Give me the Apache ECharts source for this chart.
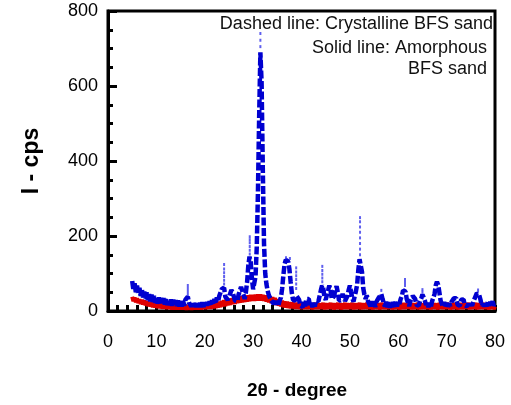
<!DOCTYPE html>
<html>
<head>
<meta charset="utf-8">
<script src="https://cdn.jsdelivr.net/npm/echarts@6/dist/echarts.min.js"></script>
<style>
  html, body { margin: 0; padding: 0; background: #fff; }
  #chart { width: 511px; height: 405px; }
</style>
</head>
<body>
<div id="chart"></div>
<script>
// XRD scan settings (2θ in degrees)
const scanStart = 5;
const scanStep = 0.25;

// Crystalline BFS sand, counts per second, one row per degree (x.00, x.25, x.50, x.75)
const crystallineCps = [
  80, 56, 74, 50,   // 5
  68, 45, 62, 40,   // 6
  58, 36, 52, 32,   // 7
  50, 29, 45, 26,   // 8
  44, 24, 40, 22,   // 9
  38, 20, 36, 19,   // 10
  35, 18, 34, 17,   // 11
  33, 16, 31, 15,   // 12
  31, 14, 30, 13,   // 13
  29, 13, 28, 12,   // 14
  28, 12, 29, 14,   // 15
  30, 26, 38, 22,   // 16
  25, 12, 24, 11,   // 17
  23, 10, 22, 10,   // 18
  22, 10, 23, 11,   // 19
  23, 11, 24, 12,   // 20
  26, 14, 29, 17,   // 21
  32, 19, 36, 25,   // 22
  40, 40, 58, 55,   // 23
  62, 38, 36, 30,   // 24
  36, 34, 56, 50,   // 25
  48, 28, 32, 26,   // 26
  44, 48, 64, 54,   // 27
  44, 32, 50, 76,   // 28
  120, 145, 130, 85,   // 29
  58, 56, 92, 170,   // 30
  320, 520, 690, 610,   // 31
  380, 180, 100, 72,   // 32
  54, 42, 40, 28,   // 33
  30, 19, 29, 17,   // 34
  27, 16, 28, 36,   // 35
  60, 95, 125, 136,   // 36
  138, 132, 112, 78,   // 37
  48, 30, 27, 28,   // 38
  40, 40, 30, 16,   // 39
  20, 10, 24, 12,   // 40
  32, 34, 32, 14,   // 41
  22, 10, 22, 12,   // 42
  28, 26, 26, 30,   // 43
  55, 68, 60, 36,   // 44
  30, 32, 55, 68,   // 45
  55, 32, 32, 40,   // 46
  58, 66, 50, 28,   // 47
  27, 29, 46, 34,   // 48
  27, 25, 40, 56,   // 49
  68, 50, 34, 25,   // 50
  40, 53, 70, 110,   // 51
  138, 135, 105, 62,   // 52
  44, 32, 42, 26,   // 53
  26, 13, 26, 12,   // 54
  25, 11, 25, 26,   // 55
  36, 40, 45, 32,   // 56
  27, 12, 25, 10,   // 57
  23, 9, 23, 10,    // 58
  24, 11, 26, 12,   // 59
  26, 19, 32, 40,   // 60
  55, 60, 52, 32,   // 61
  28, 13, 26, 28,   // 62
  40, 44, 32, 17,   // 63
  20, 14, 26, 33,   // 64
  44, 40, 28, 16,   // 65
  22, 10, 22, 12,   // 66
  26, 28, 45, 68,   // 67
  78, 70, 50, 28,   // 68
  24, 11, 24, 9,    // 69
  22, 8, 21, 14,    // 70
  24, 26, 34, 37,   // 71
  34, 17, 20, 14,   // 72
  30, 33, 31, 16,   // 73
  20, 12, 20, 12,   // 74
  20, 14, 24, 28,   // 75
  40, 48, 50, 42,   // 76
  30, 14, 20, 12,   // 77
  22, 12, 24, 14,   // 78
  24, 16, 26, 14,   // 79
  20                // 80
];

// Amorphous BFS sand, counts per second, same scan grid
const amorphousCps = [
  38, 26, 36, 23,   // 5
  34, 21, 31, 19,   // 6
  30, 17, 28, 15,   // 7
  27, 13, 25, 12,   // 8
  24, 10, 22, 9,    // 9
  22, 8, 20, 7,     // 10
  20, 6, 19, 6,     // 11
  19, 5, 18, 5,     // 12
  18, 4, 17, 4,     // 13
  17, 4, 16, 4,     // 14
  17, 4, 17, 4,     // 15
  17, 3, 16, 4,     // 16
  17, 3, 17, 4,     // 17
  17, 4, 18, 4,     // 18
  18, 4, 19, 5,     // 19
  19, 5, 20, 6,     // 20
  21, 6, 22, 7,     // 21
  23, 8, 24, 9,     // 22
  25, 10, 27, 12,   // 23
  29, 13, 31, 15,   // 24
  32, 16, 34, 18,   // 25
  35, 19, 37, 21,   // 26
  38, 22, 39, 23,   // 27
  40, 24, 41, 25,   // 28
  42, 26, 43, 27,   // 29
  43, 27, 44, 28,   // 30
  44, 28, 44, 28,   // 31
  43, 27, 42, 25,   // 32
  41, 23, 39, 21,   // 33
  37, 18, 35, 16,   // 34
  32, 14, 30, 12,   // 35
  28, 10, 26, 9,    // 36
  25, 8, 24, 7,     // 37
  23, 7, 22, 6,     // 38
  22, 6, 21, 5,     // 39
  21, 5, 21, 6,     // 40
  20, 5, 22, 6,     // 41
  21, 4, 20, 6,     // 42
  22, 5, 21, 5,     // 43
  20, 6, 22, 4,     // 44
  21, 5, 20, 6,     // 45
  22, 5, 21, 4,     // 46
  20, 6, 22, 5,     // 47
  21, 4, 20, 6,     // 48
  22, 5, 21, 5,     // 49
  20, 6, 22, 4,     // 50
  21, 5, 20, 6,     // 51
  22, 4, 21, 5,     // 52
  20, 6, 22, 5,     // 53
  21, 5, 20, 4,     // 54
  22, 6, 21, 5,     // 55
  20, 4, 22, 6,     // 56
  21, 5, 20, 5,     // 57
  22, 6, 21, 4,     // 58
  20, 5, 22, 6,     // 59
  21, 4, 20, 5,     // 60
  22, 5, 21, 6,     // 61
  20, 6, 22, 4,     // 62
  21, 5, 20, 6,     // 63
  22, 4, 21, 5,     // 64
  20, 6, 22, 5,     // 65
  21, 5, 20, 4,     // 66
  22, 6, 21, 5,     // 67
  20, 4, 22, 6,     // 68
  21, 5, 20, 5,     // 69
  22, 6, 21, 4,     // 70
  20, 5, 22, 6,     // 71
  21, 4, 20, 5,     // 72
  22, 5, 21, 6,     // 73
  20, 6, 22, 4,     // 74
  21, 5, 20, 6,     // 75
  22, 4, 21, 5,     // 76
  20, 6, 22, 5,     // 77
  21, 5, 20, 4,     // 78
  22, 6, 21, 5,     // 79
  12                // 80
];

// Isolated high-count readings of the crystalline scan
const spikeAngles = [
  16.5, 16.5, 16.5, 16.5,
  24.0, 24.0, 24.0, 24.0, 24.0, 24.0,
  29.3, 29.3, 29.3, 29.3, 29.3, 29.3,
  31.5, 31.5, 31.5,
  36.8, 37.6,
  38.9, 38.9, 38.9, 38.9, 38.9, 38.9,
  44.3, 44.3, 44.3, 44.3, 44.3,
  52.1, 52.1, 52.1, 52.1, 52.1, 52.1, 52.1, 52.1,
  56.5, 61.4, 61.4, 61.4, 65.0, 65.0, 76.5
];
const spikeCps = [
  44, 52, 60, 68,
  72, 82, 92, 102, 112, 124,
  152, 162, 172, 182, 190, 198,
  705, 722, 740,
  142, 140,
  60, 72, 84, 94, 104, 115,
  78, 88, 98, 108, 119,
  150, 165, 180, 195, 210, 224, 238, 249,
  55, 68, 76, 84, 50, 57, 56
];

// Axis ticks and titles
const xTicks = [0, 10, 20, 30, 40, 50, 60, 70, 80];
const yTicks = [0, 200, 400, 600, 800];
const xTitle = '2θ - degree';
const yTitle = 'I - cps';
const noteLines = ['Dashed line: Crystalline BFS sand', 'Solid line: Amorphous ', 'BFS sand'];

const toPairs = (values) => values.map((v, i) => [scanStart + i * scanStep, v]);
const spikes = spikeAngles.map((a, i) => [a, spikeCps[i]]);

const FONT = 'Liberation Sans, Arial, sans-serif';
const chart = echarts.init(document.getElementById('chart'), null, { renderer: 'canvas' });

chart.setOption({
  animation: false,
  backgroundColor: '#fff',
  grid: {
    left: 108, right: 16, top: 11, bottom: 93.5,
    show: true, borderColor: '#000', borderWidth: 3, backgroundColor: 'transparent'
  },
  xAxis: {
    type: 'value',
    min: xTicks[0], max: xTicks[xTicks.length - 1], interval: 10,
    name: xTitle, nameLocation: 'middle', nameGap: 70,
    nameTextStyle: { fontFamily: FONT, fontSize: 19, fontWeight: 'bold', color: '#000', padding: [0, 9, 0, 0] },
    axisLine: { show: true, onZero: false, lineStyle: { color: '#000', width: 3 } },
    axisTick: { show: true, inside: true, length: 6, lineStyle: { color: '#000', width: 3 } },
    minorTick: { show: true, splitNumber: 5, length: 6, lineStyle: { color: '#000', width: 3 } },
    axisLabel: { fontFamily: FONT, fontSize: 18, color: '#000', margin: 22,
      formatter: (v) => xTicks.includes(v) ? String(v) : '' },
    splitLine: { show: false }
  },
  yAxis: {
    type: 'value',
    min: yTicks[0], max: yTicks[yTicks.length - 1], interval: 200,
    name: yTitle, nameLocation: 'middle', nameGap: 65, nameRotate: 90,
    nameTextStyle: { fontFamily: FONT, fontSize: 23, fontWeight: 'bold', color: '#000' },
    axisLine: { show: true, onZero: false, lineStyle: { color: '#000', width: 3 } },
    axisTick: { show: true, inside: true, length: 9, lineStyle: { color: '#000', width: 3 } },
    minorTick: { show: true, splitNumber: 4, length: 5, lineStyle: { color: '#000', width: 3 } },
    axisLabel: { fontFamily: FONT, fontSize: 18, color: '#000', margin: 10, padding: [4, 0, 0, 0],
      formatter: (v) => yTicks.includes(v) ? String(v) : '' },
    splitLine: { show: false }
  },
  graphic: [
    { type: 'text', right: 18, top: 15, style: { text: noteLines[0], font: '18px ' + FONT, fill: '#111' } },
    { type: 'text', right: 19, top: 39, style: { text: noteLines[1], font: '18px ' + FONT, fill: '#111' } },
    { type: 'text', right: 24, top: 60, style: { text: noteLines[2], font: '18px ' + FONT, fill: '#111' } }
  ],
  series: [
    {
      name: 'Amorphous BFS sand',
      type: 'line',
      data: toPairs(amorphousCps),
      showSymbol: false,
      lineStyle: { color: '#e00000', width: 4, type: 'solid' },
      z: 2
    },
    {
      name: 'Crystalline BFS sand',
      type: 'line',
      data: toPairs(crystallineCps),
      showSymbol: false,
      lineStyle: { color: '#0000d0', width: 4.5, type: [8, 2.5] },
      z: 3
    },
    {
      name: 'Crystalline BFS sand spikes',
      type: 'scatter',
      data: spikes,
      symbol: 'rect',
      symbolSize: [2, 3],
      itemStyle: { color: '#2a2ae8', opacity: 0.75 },
      z: 3
    }
  ]
});
</script>
</body>
</html>
